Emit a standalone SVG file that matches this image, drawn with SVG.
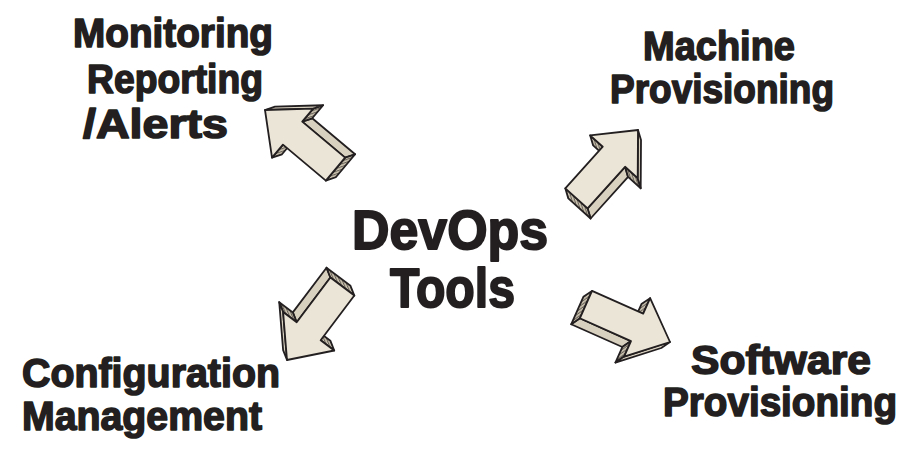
<svg xmlns="http://www.w3.org/2000/svg" xmlns:xlink="http://www.w3.org/1999/xlink" width="912" height="449" viewBox="0 0 912 449">
<style>
.lbl{font-family:"Liberation Sans",Arial,sans-serif;font-weight:bold;font-size:41px;fill:#231f20;stroke:#231f20;stroke-width:1.6;stroke-linejoin:round}
.big{font-size:55px;stroke-width:1.9}
.face{fill:#ebe5d7;stroke:#231f20;stroke-width:1.8;stroke-linejoin:round}
.side{fill:#d9d1c0;stroke:#231f20;stroke-width:1.8;stroke-linejoin:round}
.hatch{fill:url(#hatch);stroke:#231f20;stroke-width:1.8;stroke-linejoin:round}
</style>
<defs>
<pattern id="hatch" patternUnits="userSpaceOnUse" width="6" height="2.6" patternTransform="rotate(121)">
<rect width="6" height="2.6" fill="#cdc4b1"/>
<line x1="0" y1="0.6" x2="6" y2="0.6" stroke="#3a3532" stroke-width="0.8"/>
</pattern>
<g id="blockArrow">
<polygon class="side" points="-36,15 -92,15 -97.5,24 -41.5,24"/>
<polygon class="hatch" points="-92,-15 -92,15 -97.5,24 -97.5,-6"/>
<polygon class="hatch" points="-36,-32 -36,-15 -41.5,-6 -41.5,-23"/>
<polygon class="hatch" points="-36,15 -36,32 -41.5,41 -41.5,24"/>
<polygon class="side" points="0,0 -36,32 -41.5,41 -5.5,9"/>
<polygon class="face" points="0,0 -36,-32 -36,-15 -92,-15 -92,15 -36,15 -36,32"/>
</g>
</defs>
<rect width="912" height="449" fill="#ffffff"/>
<g id="connectors">
<use id="arrow-monitoring" xlink:href="#blockArrow" transform="translate(265,110) rotate(-140)"/>
<use id="arrow-machine" xlink:href="#blockArrow" transform="translate(638,130) rotate(-48)"/>
<use id="arrow-configuration" xlink:href="#blockArrow" transform="translate(287,360) rotate(127)"/>
<use id="arrow-software" xlink:href="#blockArrow" transform="translate(670,342) rotate(24)"/>
</g>
<g id="node-devops">
<text class="lbl big" x="352" y="249" textLength="196" lengthAdjust="spacingAndGlyphs">DevOps</text>
<text class="lbl big" x="390" y="307" textLength="125" lengthAdjust="spacingAndGlyphs">Tools</text>
</g>
<g id="node-monitoring">
<text class="lbl" x="73" y="47" textLength="200" lengthAdjust="spacingAndGlyphs">Monitoring</text>
<text class="lbl" x="87" y="93" textLength="176" lengthAdjust="spacingAndGlyphs">Reporting</text>
<text class="lbl" x="83" y="138" textLength="145" lengthAdjust="spacingAndGlyphs">/Alerts</text>
</g>
<g id="node-machine">
<text class="lbl" x="643" y="60" textLength="152" lengthAdjust="spacingAndGlyphs">Machine</text>
<text class="lbl" x="610" y="103" textLength="224" lengthAdjust="spacingAndGlyphs">Provisioning</text>
</g>
<g id="node-configuration">
<text class="lbl" x="22" y="387" textLength="258" lengthAdjust="spacingAndGlyphs">Configuration</text>
<text class="lbl" x="22" y="430" textLength="240" lengthAdjust="spacingAndGlyphs">Management</text>
</g>
<g id="node-software">
<text class="lbl" x="691" y="374" textLength="180" lengthAdjust="spacingAndGlyphs">Software</text>
<text class="lbl" x="663" y="416" textLength="234" lengthAdjust="spacingAndGlyphs">Provisioning</text>
</g>
</svg>
